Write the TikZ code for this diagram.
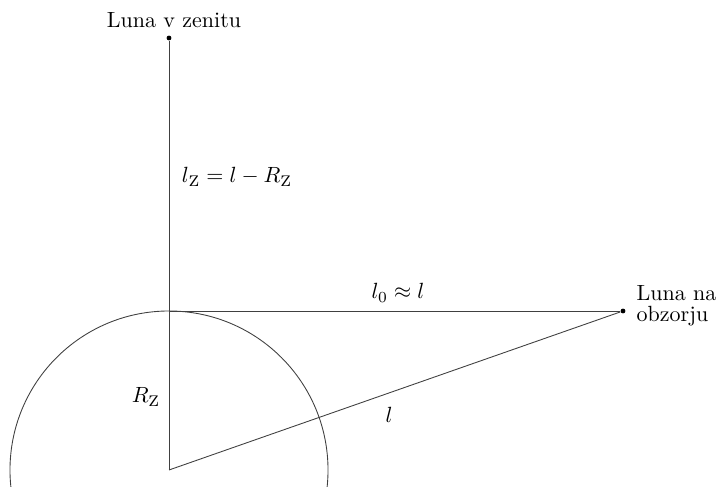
\documentclass[tikz,border=0pt]{standalone}
\begin{document}
\begin{tikzpicture}[x=0.4545pt,y=-0.4545pt,
  ln/.style={draw=black!75, line width=0.4pt},
  dotst/.style={circle, fill=black, inner sep=0pt, minimum size=2.2pt},
  lbl/.style={inner sep=1pt}]
\useasboundingbox (0,0) rectangle (719,487);
\clip (0,0) rectangle (719,487);
\coordinate (O) at (169,470);
\coordinate (T) at (169,311);
\node[dotst] (Z) at (169,38) {};
\node[dotst] (H) at (623,311) {};
\draw[ln] (O) circle[radius=72.27pt];
\draw[ln] (O) -- (Z);
\draw[ln] (T) -- (H);
\draw[ln] (O) -- (H);
\node[lbl] (tZ) at (174,20) {Luna v zenitu};
\node[lbl] (tH) at (634,306) [anchor=west, align=left, font=\fontsize{10}{9.6}\selectfont] {Luna na\\obzorju};
\node[lbl] (lz) at (237,177) {$l_{\mathrm{Z}}=l-R_{\mathrm{Z}}$};
\node[lbl] (l0) at (398,293) {$l_0\approx l$};
\node[lbl] (rz) at (146,397) {$R_{\mathrm{Z}}$};
\node[lbl] (ll) at (389,415) {$l$};
\end{tikzpicture}
\end{document}
